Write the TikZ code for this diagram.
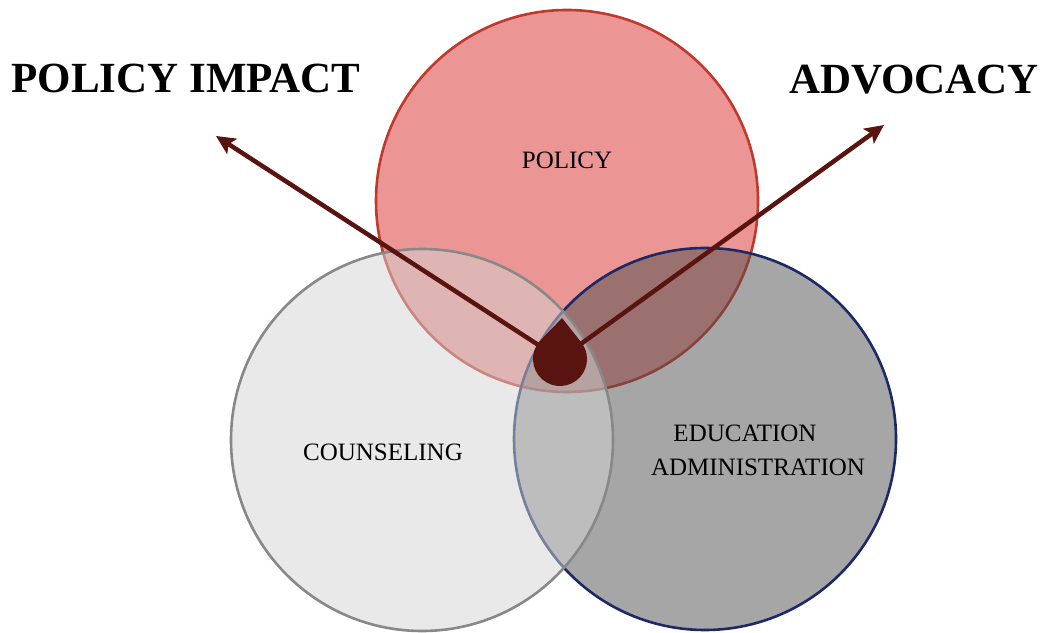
\documentclass[tikz,border=0pt]{standalone}
\usepackage{fontspec}
\setmainfont{Liberation Serif}
\usetikzlibrary{arrows.meta,calc}
\definecolor{policyfill}{HTML}{EB9694}
\definecolor{policyline}{HTML}{C0392B}
\definecolor{counsfill}{HTML}{D4D4D4}
\definecolor{counsline}{HTML}{888888}
\definecolor{edufill}{HTML}{4D4D4D}
\definecolor{eduline}{HTML}{1B2A66}
\definecolor{maroon}{HTML}{5A1410}
\tikzset{
  ring/.style={circle, minimum size=382pt, inner sep=0pt, line width=2.6pt},
  label/.style={font=\fontsize{25}{34}\selectfont, align=center},
  heading/.style={font=\fontsize{43}{48}\selectfont\bfseries},
  pointer/.style={maroon, line width=4.5pt, -{Stealth[length=19pt,width=18pt,inset=4pt]}}
}
\begin{document}
\begin{tikzpicture}[x=1pt,y=1pt]
\useasboundingbox (0,0) rectangle (1043,632);
% three overlapping areas
\node[ring, fill=policyfill, draw=policyline] (policy) at (567,431) {};
\node[ring, fill=edufill, fill opacity=0.5, draw=eduline] (edu) at (705,193) {};
\node[ring, fill=counsfill, fill opacity=0.5, draw=counsline] (couns) at (422,192) {};
% labels inside the areas
\node[label] (policytxt) at (567,472) {POLICY};
\node[label] (counstxt) at (383,180) {COUNSELING};
\node[label] (edutxta) at (745,199) {EDUCATION};
\node[label] (edutxtb) at (758,165) {ADMINISTRATION};
% outcomes
\node[heading] (impact) at (186,554) {POLICY IMPACT};
\node[heading] (advocacy) at (914,552) {ADVOCACY};
% pointers from the shared centre
\coordinate (hub) at (560,273);
\coordinate (impacttip) at (216,496);
\coordinate (advtip) at (884,507);
\draw[pointer] (hub) -- (impacttip);
\draw[pointer] (hub) -- (advtip);
% drop marking the intersection
\fill[maroon] (562,314) -- ($(hub)+(138.8:27)$) arc[start angle=138.8, end angle=401.2, radius=27] -- cycle;
\end{tikzpicture}
\end{document}
